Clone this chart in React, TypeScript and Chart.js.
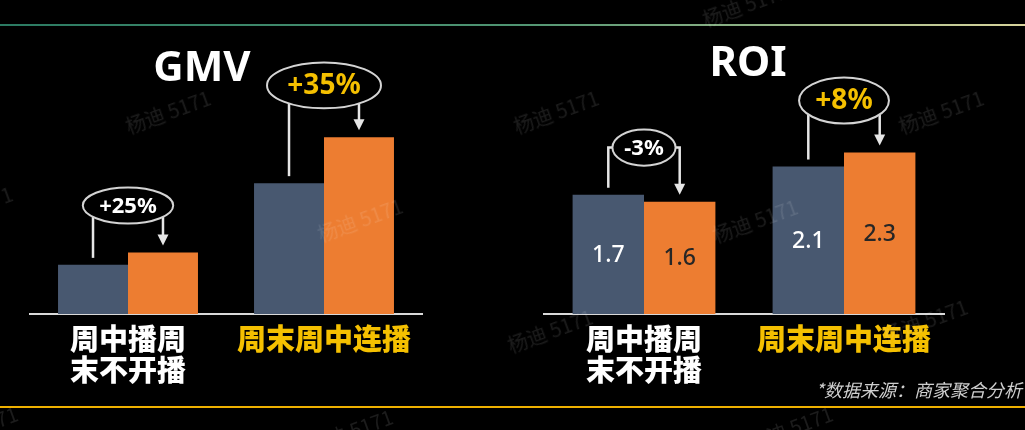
import React, { useEffect, useRef } from 'react';
import { Chart, registerables, Plugin } from 'chart.js';

Chart.register(...registerables);

// ---- data ----
const categories = [['周中播周', '末不开播'], '周末周中连播'];
const seriesNames = ['对照', '连播'];
const gmvBefore = [100, 266];
const gmvAfter = [125, 359];
const gmvChange = ['+25%', '+35%'];
const roiBefore = [1.7, 2.1];
const roiAfter = [1.6, 2.3];
const roiChange = ['-3%', '+8%'];

const categoryColors = ['#ffffff', '#f5c000'];
const changeColors = ['#ffffff', '#f5c000'];
const barColors = ['#485870', '#ed7d31'];
const valueColors = ['#ffffff', '#262626'];

const LATIN = '"Noto Sans", "Noto Sans CJK SC", sans-serif';
const CJK = '"Noto Sans CJK SC", "Noto Sans", sans-serif';

// watermark positions (decoration only)
const marks = [
  [168, 109], [556, 109], [941, 109], [745, 2], [-30, 205], [360, 217],
  [755, 218], [550, 328], [925, 318], [350, 428], [-25, 425], [790, 425],
];

const changeNotes: Plugin<'bar'> = {
  id: 'changeNotes',
  afterDatasetsDraw(chart, _args, opts: any) {
    const { ctx } = chart;
    const m0 = chart.getDatasetMeta(0).data as any[];
    const m1 = chart.getDatasetMeta(1).data as any[];
    ctx.save();

    // title
    ctx.font = `bold 42px ${LATIN}`;
    ctx.fillStyle = '#ffffff';
    ctx.textAlign = 'center';
    ctx.textBaseline = 'middle';
    ctx.fillText(opts.title, opts.titleX, opts.titleY);

    // values inside bars
    if (opts.showValues) {
      ctx.font = `500 23px ${LATIN}`;
      [m0, m1].forEach((bars, d) => {
        ctx.fillStyle = valueColors[d];
        bars.forEach((el, i) => {
          const v = chart.data.datasets[d].data[i] as number;
          ctx.fillText(v.toFixed(1), el.x, (el.y + el.base) / 2 + 1);
        });
      });
    }

    m0.forEach((a, i) => {
      const b = m1[i];
      const label = opts.changes[i];
      const fs = i === 1 ? 28 : 22;
      ctx.font = `bold ${fs}px ${LATIN}`;
      const w = ctx.measureText(label).width;
      const rx = w * 0.75 + 2;
      const ry = fs * 0.82;
      const cx = (a.x + b.x) / 2;
      const cy = Math.min(a.y, b.y) - 29 - ry;

      ctx.strokeStyle = '#e6e6e6';
      ctx.fillStyle = '#e6e6e6';
      ctx.lineWidth = 2.5;

      const startOf = (x: number) => {
        const dx = x - cx;
        if (Math.abs(dx) < rx * 0.97) {
          return { y: cy + ry * Math.sqrt(1 - (dx / rx) ** 2), hook: null as number | null };
        }
        return { y: cy, hook: dx < 0 ? cx - rx : cx + rx };
      };

      // left connector
      const s0 = startOf(a.x);
      ctx.beginPath();
      if (s0.hook !== null) {
        ctx.moveTo(s0.hook, s0.y);
        ctx.lineTo(a.x, s0.y);
      } else {
        ctx.moveTo(a.x, s0.y);
      }
      ctx.lineTo(a.x, a.y - 7);
      ctx.stroke();

      // right arrow
      const tip = b.y - 7;
      const s1 = startOf(b.x);
      ctx.beginPath();
      if (s1.hook !== null) {
        ctx.moveTo(s1.hook, s1.y);
        ctx.lineTo(b.x, s1.y);
      } else {
        ctx.moveTo(b.x, s1.y);
      }
      ctx.lineTo(b.x, tip - 9);
      ctx.stroke();
      ctx.beginPath();
      ctx.moveTo(b.x - 5.5, tip - 11);
      ctx.lineTo(b.x + 5.5, tip - 11);
      ctx.lineTo(b.x, tip);
      ctx.closePath();
      ctx.fill();

      // ellipse
      ctx.beginPath();
      ctx.ellipse(cx, cy, rx, ry, 0, 0, Math.PI * 2);
      ctx.fillStyle = '#000000';
      ctx.fill();
      ctx.lineWidth = 2;
      ctx.strokeStyle = '#d4d4d4';
      ctx.stroke();

      ctx.fillStyle = changeColors[i];
      ctx.font = `bold ${fs}px ${LATIN}`;
      ctx.fillText(label, cx, cy + 1);
    });

    ctx.restore();
  },
};

interface PanelProps {
  left: number;
  width: number;
  title: string;
  titleX: number;
  titleY: number;
  before: number[];
  after: number[];
  changes: string[];
  max: number;
  padLeft: number;
  padRight: number;
  showValues?: boolean;
}

const Panel: React.FC<PanelProps> = (p) => {
  const canvasRef = useRef<HTMLCanvasElement>(null);

  useEffect(() => {
    if (!canvasRef.current) return;
    const chart = new Chart(canvasRef.current, {
      type: 'bar',
      data: {
        labels: categories,
        datasets: [
          { label: seriesNames[0], data: p.before, backgroundColor: barColors[0], categoryPercentage: 0.714, barPercentage: 1 },
          { label: seriesNames[1], data: p.after, backgroundColor: barColors[1], categoryPercentage: 0.714, barPercentage: 1 },
        ],
      },
      options: {
        animation: false,
        responsive: true,
        maintainAspectRatio: false,
        layout: { padding: { left: p.padLeft, right: p.padRight, top: 33, bottom: 35 } },
        plugins: {
          legend: { display: false },
          tooltip: { enabled: false },
          changeNotes: {
            title: p.title,
            titleX: p.titleX,
            titleY: p.titleY,
            changes: p.changes,
            showValues: !!p.showValues,
          },
        } as any,
        scales: {
          x: {
            grid: { display: false, drawTicks: false },
            border: { color: '#d9d9d9', width: 2 },
            ticks: {
              color: (c: any) => categoryColors[c.index],
              font: { family: CJK, size: 29, weight: 900, lineHeight: 1.05 },
              padding: 10,
              maxRotation: 0,
              autoSkip: false,
            },
          },
          y: { display: false, min: 0, max: p.max },
        },
      },
      plugins: [changeNotes],
    });
    return () => chart.destroy();
  }, []);

  return (
    <div style={{ position: 'absolute', left: p.left, top: 0, width: p.width, height: 430 }}>
      <canvas ref={canvasRef}></canvas>
    </div>
  );
};

const App: React.FC = () => {
  return (
    <div
      style={{
        position: 'fixed',
        left: 0,
        top: 0,
        width: 1025,
        height: 430,
        background: '#000',
        overflow: 'hidden',
      }}
    >
      <div
        style={{
          position: 'absolute',
          left: 0,
          top: 24,
          width: 1025,
          height: 2,
          background: 'linear-gradient(90deg, #2b7a62 0%, #4f9472 50%, #d8d49c 100%)',
        }}
      />
      <div style={{ position: 'absolute', left: 0, top: 406, width: 1025, height: 2, background: '#eeb000' }} />

      <Panel
        left={0}
        width={512}
        title="GMV"
        titleX={202}
        titleY={69}
        before={gmvBefore}
        after={gmvAfter}
        changes={gmvChange}
        max={571}
        padLeft={30}
        padRight={90}
      />
      <Panel
        left={512}
        width={513}
        title="ROI"
        titleX={236}
        titleY={64}
        before={roiBefore}
        after={roiAfter}
        changes={roiChange}
        max={4}
        padLeft={32}
        padRight={81}
        showValues
      />

      <div
        style={{
          position: 'absolute',
          right: 3,
          top: 376,
          fontFamily: CJK,
          fontStyle: 'italic',
          fontSize: 18,
          color: '#cfcfcf',
          whiteSpace: 'nowrap',
        }}
      >
        *数据来源：商家聚合分析
      </div>

      {marks.map(([x, y], i) => (
        <div
          key={i}
          style={{
            position: 'absolute',
            left: x - 50,
            top: y - 12,
            width: 100,
            textAlign: 'center',
            fontFamily: CJK,
            fontSize: 20,
            color: 'rgba(255,255,255,0.11)',
            transform: 'rotate(-20deg)',
            whiteSpace: 'nowrap',
            pointerEvents: 'none',
          }}
        >
          杨迪 5171
        </div>
      ))}
    </div>
  );
};

export default App;
